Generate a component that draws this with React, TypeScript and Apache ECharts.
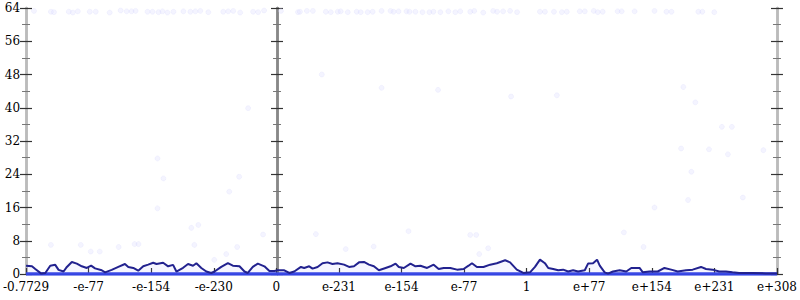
import React, { useEffect, useRef } from "react";
import * as echarts from "echarts";

const xTickLabels = ["-0.7729", "-e-77", "-e-154", "-e-230", "0", "e-231", "e-154", "e-77", "1", "e+77", "e+154", "e+231", "e+308"];
const yTicks = { min: 0, max: 64, interval: 8 };

const mainLine: [number, number][] = [
  [0, 2.0], [0.095, 1.85], [0.148, 1.2], [0.244, 0.1], [0.308, 0.25], [0.387, 2.0], [0.467, 2.2], [0.52, 1.0], [0.6, 0.6], [0.653, 1.7], [0.732, 2.9], [0.812, 2.5], [0.891, 1.85], [0.971, 1.45], [1.04, 2.0], [1.103, 1.35], [1.21, 0.9], [1.263, 0.4], [1.369, 1.0], [1.475, 1.7], [1.581, 2.4], [1.634, 1.7], [1.714, 1.45], [1.793, 0.8], [1.873, 1.85], [1.952, 2.25], [2.032, 2.7], [2.085, 2.4], [2.191, 2.7], [2.271, 1.85], [2.35, 2.2], [2.403, 0.6], [2.51, 1.5], [2.589, 2.4], [2.669, 2.0], [2.722, 2.6], [2.801, 1.45], [2.881, 0.6], [2.96, 0.25], [3.013, 0.6], [3.12, 1.7], [3.226, 2.6], [3.305, 2.0], [3.411, 1.85], [3.491, 0.6], [3.544, 0.25], [3.624, 1.7], [3.704, 2.5], [3.809, 1.85], [3.889, 0.7], [3.968, 0.7],
  [4.022, 0.9], [4.127, 0.9], [4.207, 0.25], [4.286, 0.6], [4.393, 1.7], [4.445, 1.45], [4.525, 1.85], [4.579, 1.3], [4.659, 1.7], [4.738, 2.6], [4.818, 2.8], [4.897, 2.4], [4.977, 2.6], [5.082, 2.25], [5.162, 1.7], [5.241, 1.85], [5.321, 2.8], [5.4, 2.9], [5.48, 2.25], [5.559, 1.85], [5.639, 0.9], [5.746, 1.45], [5.825, 1.85], [5.905, 2.5], [5.957, 1.7], [6.037, 1.45], [6.144, 2.5], [6.223, 1.85], [6.303, 2.0], [6.409, 1.45], [6.514, 2.25], [6.594, 1.2], [6.674, 1.45], [6.78, 1.45], [6.887, 1.05], [6.992, 1.2], [7.072, 2.0], [7.126, 2.6], [7.205, 1.7], [7.31, 1.7], [7.417, 2.25], [7.523, 2.6], [7.656, 3.3], [7.735, 2.8], [7.842, 1.05], [7.947, 0.25], [8.054, 0.4], [8.133, 1.7], [8.213, 3.45], [8.292, 2.6], [8.345, 1.45], [8.424, 1.2], [8.504, 0.9], [8.583, 1.05], [8.663, 0.6], [8.743, 0.9], [8.822, 0.6], [8.929, 0.9], [8.981, 2.5], [9.061, 2.6], [9.125, 3.45], [9.168, 2.0], [9.247, 0.4], [9.3, 0.1], [9.379, 0.6], [9.486, 0.9], [9.592, 0.6], [9.672, 1.45], [9.804, 1.45], [9.857, 0.4], [9.963, 0.6], [10.095, 0.6], [10.202, 1.45], [10.309, 1.05], [10.414, 0.6], [10.548, 0.9], [10.653, 1.05], [10.786, 1.7], [10.866, 1.2], [10.971, 1.05], [11.077, 0.6], [11.184, 0.6], [11.289, 0.4], [11.396, 0.25], [11.607, 0.25], [11.821, 0.15], [12.0, 0.15],
];

const baseline: [number, number][] = [[0, 0], [12, 0]];

const topRowX = [0.127, 0.398, 0.446, 0.684, 0.748, 0.828, 1.019, 1.114, 1.337, 1.512, 1.608, 1.687, 1.751, 1.942, 2.021, 2.117, 2.18, 2.26, 2.356, 2.515, 2.626, 2.706, 2.785, 2.913, 3.151, 3.231, 3.311, 3.422, 3.629, 3.709, 3.804, 4.074, 4.345, 4.377, 4.488, 4.584, 4.791, 4.87, 4.982, 5.029, 5.141, 5.284, 5.348, 5.459, 5.539, 5.682, 5.825, 5.873, 5.953, 6.08, 6.128, 6.223, 6.335, 6.446, 6.51, 6.621, 6.749, 6.86, 6.939, 7.098, 7.162, 7.306, 7.465, 7.528, 7.624, 7.735, 7.847, 8.213, 8.292, 8.436, 8.563, 8.642, 8.849, 8.929, 9.072, 9.136, 9.215, 9.454, 9.518, 9.725, 10.043, 10.234, 10.314, 10.743, 10.807, 10.998];
const topRowY = [63.3, 63.1, 63.0, 63.1, 62.9, 63.2, 63.1, 63.1, 62.9, 63.4, 63.2, 63.2, 63.3, 63.1, 63.1, 63.0, 63.2, 62.9, 63.1, 63.2, 63.1, 63.2, 63.3, 63.0, 63.1, 63.2, 63.3, 62.9, 63.1, 63.0, 63.4, 63.3, 63.0, 63.1, 63.3, 63.3, 63.1, 63.0, 63.1, 63.2, 63.0, 63.1, 63.0, 63.0, 63.1, 63.3, 63.3, 63.1, 63.2, 63.2, 63.1, 63.1, 63.0, 63.0, 63.1, 63.0, 63.2, 63.0, 63.2, 63.1, 63.3, 62.9, 63.3, 63.1, 63.2, 63.3, 63.0, 63.1, 63.1, 63.1, 63.0, 63.1, 63.2, 63.2, 63.3, 63.0, 63.1, 63.2, 63.2, 63.2, 63.3, 63.1, 63.1, 63.1, 63.1, 63.0];

const scatterPoints: [number, number][] = [
  [4.727, 48], [5.682, 44.8], [6.584, 44.3], [7.751, 42.7], [8.483, 43], [10.504, 45], [10.695, 41.3], [11.12, 35.4], [11.28, 35.4], [10.468, 30.2], [10.914, 30], [11.216, 28.8], [11.783, 29.8], [10.632, 24.6], [10.579, 17.8], [11.455, 18.4], [10.043, 16], [9.554, 10],
  [3.549, 39.9], [2.101, 27.8], [2.196, 23], [3.406, 23.4], [3.247, 19.8], [2.101, 15.8], [2.642, 11.1], [2.753, 11.8], [3.788, 9.5],
  [0.398, 7], [0.875, 7], [1.035, 5.4], [1.178, 5.4], [1.48, 6.5], [1.735, 7.2], [1.798, 7.2], [2.69, 7], [3.008, 3.4], [3.199, 4.8], [3.374, 6.5],
  [4.632, 9.6], [5.109, 6], [5.555, 6.6], [6.112, 10.3], [7.098, 9.4], [7.194, 9.4], [7.242, 4.8], [7.385, 6.2], [9.868, 6.5],
];

const FONT = "'DejaVu Serif', serif";

function yAx(position: "left" | "right", inside: boolean, labels: boolean, lineColor: string, offset = 0) {
  return {
    type: "value",
    position,
    offset,
    min: yTicks.min,
    max: yTicks.max,
    interval: yTicks.interval,
    axisLine: { show: true, lineStyle: { color: lineColor, width: 2.5 } },
    axisTick: { show: true, inside, length: 6, lineStyle: { color: "#333", width: 1.2 } },
    minorTick: { show: true, splitNumber: 2, length: 4, lineStyle: { color: "#777", width: 1 } },
    axisLabel: { show: labels, fontFamily: FONT, fontSize: 12, color: "#000", margin: 6 },
    splitLine: { show: false },
    minorSplitLine: { show: false },
  };
}

export default function App() {
  const ref = useRef<HTMLDivElement>(null);
  useEffect(() => {
    if (!ref.current) return;
    const chart = echarts.init(ref.current, null, { renderer: "svg" });
    const scatterData: [number, number][] = topRowX.map((x, i) => [x, topRowY[i]] as [number, number]).concat(scatterPoints);
    chart.setOption({
      animation: false,
      backgroundColor: "#fff",
      grid: { left: 24, right: 22, top: 8, bottom: 26 },
      xAxis: [
        {
          type: "value",
          position: "bottom",
          min: 0,
          max: 12,
          interval: 1,
          axisLine: { show: true, lineStyle: { color: "#bbb", width: 2 } },
          axisTick: { show: true, inside: true, length: 6, lineStyle: { color: "#333", width: 1.2 } },
          axisLabel: {
            fontFamily: FONT,
            fontSize: 12,
            color: "#000",
            margin: 7,
            formatter: (v: number) => xTickLabels[Math.round(v)] ?? "",
          },
          splitLine: { show: false },
        },
        {
          type: "value",
          position: "top",
          min: 0,
          max: 12,
          interval: 1,
          axisLine: { show: true, lineStyle: { color: "#aaa", width: 2 } },
          axisTick: { show: false },
          axisLabel: { show: false },
          splitLine: { show: false },
        },
      ],
      yAxis: [
        yAx("left", false, true, "#bbb"),
        yAx("left", true, false, "#bbb"),
        yAx("right", false, false, "#bbb"),
        yAx("right", true, false, "#bbb"),
        yAx("left", false, false, "#888", -251),
        yAx("left", true, false, "#888", -251),
      ],
      series: [
        {
          type: "scatter",
          xAxisIndex: 0,
          yAxisIndex: 0,
          data: scatterData,
          symbolSize: 5,
          itemStyle: { color: "rgba(225,225,255,0.45)", borderColor: "rgba(200,200,250,0.35)", borderWidth: 0.6 },
          z: 1,
        },
        {
          type: "line",
          xAxisIndex: 0,
          yAxisIndex: 0,
          data: baseline,
          showSymbol: false,
          lineStyle: { color: "#3343e3", width: 3.5 },
          z: 3,
        },
        {
          type: "line",
          xAxisIndex: 0,
          yAxisIndex: 0,
          data: mainLine,
          showSymbol: false,
          lineStyle: { color: "#22228f", width: 2 },
          areaStyle: { color: "rgba(150,150,255,0.12)" },
          z: 4,
        },
      ],
    });
    return () => chart.dispose();
  }, []);
  return <div ref={ref} style={{ width: 800, height: 300, position: "absolute", left: 0, top: 0 }} />;
}
